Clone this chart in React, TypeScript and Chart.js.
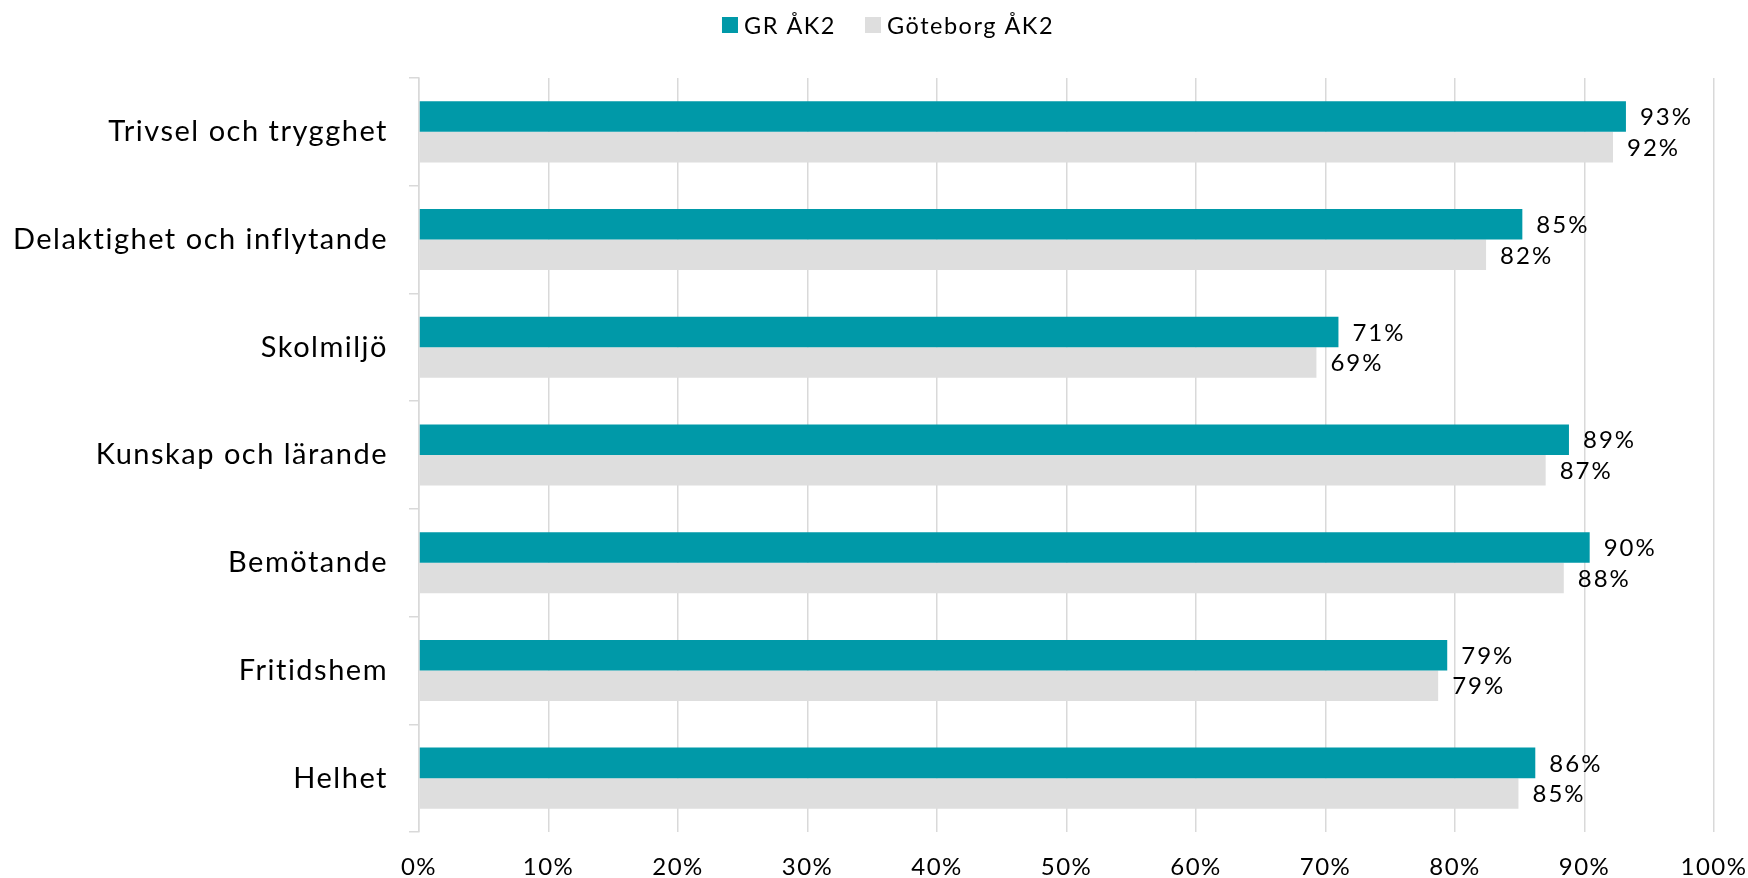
import React, { useEffect, useRef } from "react";
import { Chart, registerables } from "chart.js";

Chart.register(...registerables);

const categories = [
  "Trivsel och trygghet",
  "Delaktighet och inflytande",
  "Skolmiljö",
  "Kunskap och lärande",
  "Bemötande",
  "Fritidshem",
  "Helhet",
];
const seriesNames = ["GR ÅK2", "Göteborg ÅK2"];
const seriesColors = ["#0099A8", "#DEDEDE"];
const grValues = [93.2, 85.2, 71.0, 88.8, 90.4, 79.4, 86.2];
const gbgValues = [92.2, 82.4, 69.3, 87.0, 88.4, 78.7, 84.9];
const xMin = 0;
const xMax = 100;
const xStep = 10;

const FONT = "Lato, 'Open Sans', sans-serif";
const SPACING = "1.5px";

const spacingPlugin = {
  id: "spacing",
  beforeUpdate(chart: any) {
    chart.ctx.letterSpacing = SPACING;
  },
  beforeLayout(chart: any) {
    chart.ctx.letterSpacing = SPACING;
  },
  beforeDraw(chart: any) {
    chart.ctx.letterSpacing = SPACING;
  },
};

const valueLabels = {
  id: "valueLabels",
  afterDatasetsDraw(chart: any) {
    const ctx = chart.ctx;
    ctx.save();
    ctx.letterSpacing = "2px";
    ctx.font = `24px ${FONT}`;
    ctx.fillStyle = "#000";
    ctx.textAlign = "left";
    ctx.textBaseline = "middle";
    chart.data.datasets.forEach((ds: any, di: number) => {
      const meta = chart.getDatasetMeta(di);
      meta.data.forEach((bar: any, i: number) => {
        const v = ds.data[i];
        ctx.fillText(Math.round(v) + "%", bar.x + 14, bar.y + 1);
      });
    });
    ctx.restore();
  },
};

const customLegend = {
  id: "customLegend",
  afterDraw(chart: any) {
    const ctx = chart.ctx;
    ctx.save();
    ctx.letterSpacing = SPACING;
    ctx.font = `23.5px ${FONT}`;
    const box = 16;
    const gap = 6;
    const itemGap = 29;
    const widths = seriesNames.map((n) => ctx.measureText(n).width);
    const total =
      widths.reduce((a, w) => a + box + gap + w, 0) + itemGap * (seriesNames.length - 1);
    let x = chart.width / 2 + 14 - total / 2;
    const cy = 25;
    ctx.textAlign = "left";
    ctx.textBaseline = "middle";
    seriesNames.forEach((n, i) => {
      ctx.fillStyle = seriesColors[i];
      ctx.fillRect(x, cy - box / 2, box, box);
      ctx.fillStyle = "#000";
      ctx.fillText(n, x + box + gap, cy + 1);
      x += box + gap + widths[i] + itemGap;
    });
    ctx.restore();
  },
};

export default function App() {
  const ref = useRef<HTMLCanvasElement>(null);
  useEffect(() => {
    if (!ref.current) return;
    const chart = new Chart(ref.current, {
      type: "bar",
      data: {
        labels: categories,
        datasets: [
          {
            label: seriesNames[0],
            data: grValues,
            backgroundColor: seriesColors[0],
            borderWidth: 0,
            categoryPercentage: 0.567,
            barPercentage: 1.0,
          },
          {
            label: seriesNames[1],
            data: gbgValues,
            backgroundColor: seriesColors[1],
            borderWidth: 0,
            categoryPercentage: 0.567,
            barPercentage: 1.0,
          },
        ],
      },
      options: {
        indexAxis: "y",
        animation: false,
        responsive: true,
        maintainAspectRatio: false,
        layout: { padding: { top: 78, right: 0, left: 0, bottom: 0 } },
        plugins: {
          legend: { display: false },
          tooltip: { enabled: false },
        },
        scales: {
          x: {
            min: xMin,
            max: xMax,
            ticks: {
              stepSize: xStep,
              color: "#000",
              font: { family: FONT, size: 24 },
              padding: 21,
              callback: (v: any) => v + "%",
              maxRotation: 0,
            },
            grid: { color: "#D9D9D9", drawTicks: false, lineWidth: 1.5 },
            border: { display: false },
            afterFit: (s: any) => {
              s.height = 46;
              s.paddingRight = 34;
              s.paddingLeft = 0;
            },
          },
          y: {
            ticks: {
              color: "#000",
              font: { family: FONT, size: 29 },
              padding: 21,
            },
            grid: {
              offset: true,
              drawOnChartArea: false,
              drawTicks: true,
              tickLength: 10,
              color: "#D9D9D9",
              lineWidth: 1.5,
            },
            border: { display: true, color: "#D9D9D9", width: 1.5 },
            afterFit: (s: any) => {
              s.width = 419;
            },
          },
        },
      },
      plugins: [spacingPlugin, valueLabels, customLegend],
    });
    return () => chart.destroy();
  }, []);
  return (
    <div style={{ position: "absolute", left: 0, top: 0, width: 1748, height: 878, background: "#fff" }}>
      <canvas ref={ref} />
    </div>
  );
}
